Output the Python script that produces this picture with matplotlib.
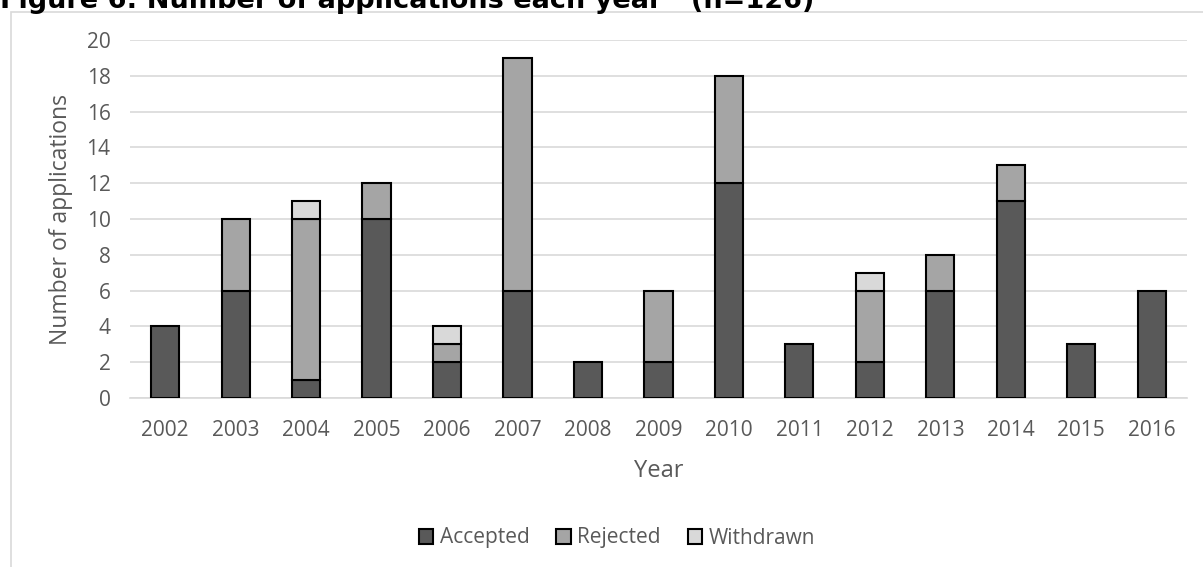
import matplotlib
matplotlib.use("Agg")
import matplotlib.pyplot as plt
from matplotlib.patches import Rectangle
import numpy as np

years = ["2002", "2003", "2004", "2005", "2006", "2007", "2008", "2009",
         "2010", "2011", "2012", "2013", "2014", "2015", "2016"]
accepted = [4, 6, 1, 10, 2, 6, 2, 2, 12, 3, 2, 6, 11, 3, 6]
rejected = [0, 4, 9, 2, 1, 13, 0, 4, 6, 0, 4, 2, 2, 0, 0]
withdrawn = [0, 0, 1, 0, 1, 0, 0, 0, 0, 0, 1, 0, 0, 0, 0]
series_names = ["Accepted", "Rejected", "Withdrawn"]
series_colors = ["#595959", "#A5A5A5", "#D9D9D9"]

plt.rcParams["font.family"] = ["Open Sans", "DejaVu Sans"]
text_color = "#595959"

fig = plt.figure(figsize=(12.03, 5.67), dpi=100)
ax = fig.add_axes([0.108, 0.298, 0.8787, 0.6315])

x = np.arange(len(years))
bottom = np.zeros(len(years))
handles = []
for name, vals, col in zip(series_names, [accepted, rejected, withdrawn], series_colors):
    vals = np.array(vals, dtype=float)
    mask = vals > 0
    ax.bar(x[mask], vals[mask], bottom=bottom[mask], width=0.4, color=col,
           edgecolor="black", linewidth=1.5, zorder=3)
    handles.append(Rectangle((0, 0), 1, 1, facecolor=col, edgecolor="black", linewidth=1.5))
    bottom += vals

ax.set_xlim(-0.5, len(years) - 0.5)
ax.set_ylim(0, 20)
ax.set_yticks(np.arange(0, 21, 2))
ax.set_xticks(x)
ax.set_xticklabels(years)
ax.grid(axis="y", color="#D9D9D9", linewidth=1.2, zorder=0)
for s in ["top", "right", "left"]:
    ax.spines[s].set_visible(False)
ax.spines["bottom"].set_color("#D9D9D9")
ax.spines["bottom"].set_linewidth(1.2)
ax.tick_params(length=0, labelsize=15, labelcolor=text_color)
ax.tick_params(axis="x", pad=16)
ax.tick_params(axis="y", pad=14)

ax.set_ylabel("Number of applications", fontsize=16.5, color=text_color, labelpad=10)
ax.set_xlabel("Year", fontsize=17, color=text_color, labelpad=13)

fig.legend(handles, series_names, loc="center", bbox_to_anchor=(617 / 1203, 1 - 538 / 567),
           ncol=3, frameon=False, fontsize=15, labelcolor=text_color,
           handlelength=0.7, handleheight=0.7, handletextpad=0.3, columnspacing=1.3)

# chart frame
fig.patches.append(Rectangle((11 / 1203, -0.01), 1.02, 1 - 12 / 567 + 0.01,
                             transform=fig.transFigure, fill=False,
                             edgecolor="#D9D9D9", linewidth=1.2))

fig.text(0.0, 1 - 8 / 567, "Figure 6: Number of applications each year   (n=126)",
         fontsize=19.5, fontweight="bold", color="black", va="baseline", ha="left",
         family="DejaVu Sans")

fig.savefig("out.png", dpi=100)
